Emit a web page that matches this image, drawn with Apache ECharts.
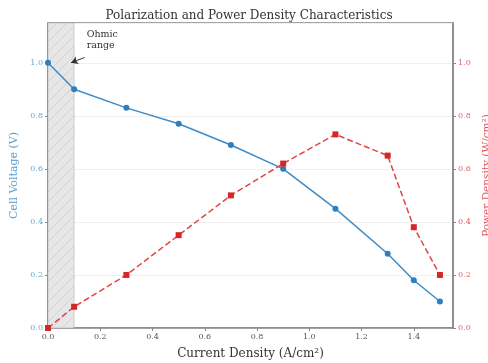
<!DOCTYPE html>
<html>
<head>
<meta charset="utf-8">
<script src="https://cdn.jsdelivr.net/npm/echarts@6/dist/echarts.min.js"></script>
<style>
html, body { margin: 0; padding: 0; background: #fff; }
#main { width: 488px; height: 363px; }
</style>
</head>
<body>
<div id="main"></div>
<script>
// current density (A/cm2)
var currentDensity = [0.0, 0.1, 0.3, 0.5, 0.7, 0.9, 1.1, 1.3, 1.4, 1.5];
// cell voltage (V)
var cellVoltage = [1.0, 0.9, 0.83, 0.77, 0.69, 0.60, 0.45, 0.28, 0.18, 0.10];
// power density (W/cm2)
var powerDensity = [0.0, 0.08, 0.20, 0.35, 0.50, 0.62, 0.73, 0.65, 0.38, 0.20];
// ohmic range shading
var ohmicRange = [0.0, 0.1];
var ohmicLabel = 'Ohmic\nrange';
var ohmicArrow = [[0.14, 1.02], [0.088, 1.0]];
var ohmicTextAt = [0.148, 1.087];

var chart = echarts.init(document.getElementById('main'));

// hatch pattern for the shaded band
var pat = document.createElement('canvas');
pat.width = 10; pat.height = 10;
var pc = pat.getContext('2d');
pc.fillStyle = '#e6e6e6';
pc.fillRect(0, 0, 10, 10);
pc.strokeStyle = '#d3d3d3';
pc.lineWidth = 1;
pc.beginPath();
pc.moveTo(0, 10); pc.lineTo(10, 0);
pc.moveTo(-5, 5); pc.lineTo(5, -5);
pc.moveTo(5, 15); pc.lineTo(15, 5);
pc.stroke();

var font = 'DejaVu Serif';
function pair(xs, ys) {
    return xs.map(function (x, i) { return [x, ys[i]]; });
}
function fmt(v) {
    var r = Math.round(v * 10) / 10;
    return Math.abs(r - v) < 1e-6 ? r.toFixed(1) : '';
}

var option = {
    animation: false,
    textStyle: { fontFamily: font },
    title: {
        text: 'Polarization and Power Density Characteristics',
        left: 244, top: 5, textAlign: 'center',
        textStyle: { fontFamily: font, fontSize: 12, fontWeight: 'normal', color: '#333' }
    },
    grid: {
        left: 48, right: 35, top: 23, bottom: 35,
        outerBoundsMode: 'none', containLabel: false,
        show: true, borderColor: '#888', borderWidth: 1.5, backgroundColor: 'transparent'
    },
    xAxis: {
        type: 'value', min: 0, max: 1.55, interval: 0.2,
        name: 'Current Density (A/cm²)', nameLocation: 'middle', nameGap: 20,
        nameTextStyle: { fontFamily: font, fontSize: 12, color: '#333' },
        axisLine: { lineStyle: { color: '#888', width: 1.5 } },
        axisTick: { show: true, length: 3, lineStyle: { color: '#888' } },
        axisLabel: { formatter: fmt, showMaxLabel: false, fontSize: 8, color: '#555', margin: 5 },
        splitLine: { show: false }
    },
    yAxis: [{
        type: 'value', min: 0, max: 1.15, interval: 0.2,
        name: 'Cell Voltage (V)', nameLocation: 'middle', nameGap: 32, nameRotate: 90,
        nameTextStyle: { fontFamily: font, fontSize: 11, color: '#5a9fd4', align: 'center', verticalAlign: 'middle' },
        axisLine: { show: true, lineStyle: { color: '#888', width: 1.5 } },
        axisTick: { show: true, length: 3, lineStyle: { color: '#888' } },
        axisLabel: { formatter: fmt, showMaxLabel: false, fontSize: 8, color: '#6aaad8', margin: 5 },
        splitLine: { show: true, lineStyle: { color: '#f0f0f0', width: 1 } }
    }, {
        type: 'value', min: 0, max: 1.15, interval: 0.2, position: 'right',
        name: 'Power Density (W/cm²)', nameLocation: 'middle', nameGap: 28, nameRotate: 90,
        nameTextStyle: { fontFamily: font, fontSize: 10.5, color: '#e05555', align: 'center', verticalAlign: 'middle' },
        axisLine: { show: true, lineStyle: { color: '#888', width: 1.5 } },
        axisTick: { show: true, length: 3, lineStyle: { color: '#888' } },
        axisLabel: { formatter: fmt, showMaxLabel: false, fontSize: 8, color: '#e06060', margin: 5 },
        splitLine: { show: false }
    }],
    series: [{
        name: 'Cell Voltage',
        type: 'line',
        yAxisIndex: 0,
        data: pair(currentDensity, cellVoltage),
        symbol: 'circle', symbolSize: 6,
        lineStyle: { color: '#3d8cc6', width: 1.5 },
        itemStyle: { color: '#2f7fbf' },
        z: 3,
        markArea: {
            silent: true,
            itemStyle: { color: { image: pat, repeat: 'repeat' }, borderColor: '#aaa', borderWidth: 0.5 },
            data: [[{ xAxis: ohmicRange[0] }, { xAxis: ohmicRange[1] }]]
        },
        markLine: {
            silent: true,
            symbol: ['none', 'arrow'], symbolSize: [6, 7],
            lineStyle: { color: '#333', width: 1, type: 'solid' },
            label: { show: false },
            data: [[{ coord: ohmicArrow[0] }, { coord: ohmicArrow[1] }]]
        },
        markPoint: {
            silent: true,
            symbol: 'circle', symbolSize: 0,
            label: {
                show: true, position: 'right', distance: 0, formatter: ohmicLabel,
                fontFamily: font, fontSize: 9.5, color: '#333', lineHeight: 11
            },
            data: [{ coord: ohmicTextAt }]
        }
    }, {
        name: 'Power Density',
        type: 'line',
        yAxisIndex: 1,
        data: pair(currentDensity, powerDensity),
        symbol: 'rect', symbolSize: 6,
        lineStyle: { color: '#e04545', width: 1.5, type: 'dashed' },
        itemStyle: { color: '#d62728' },
        z: 4
    }]
};

chart.setOption(option);
window.addEventListener('resize', function () {
    chart.resize();
});
</script>
</body>
</html>
